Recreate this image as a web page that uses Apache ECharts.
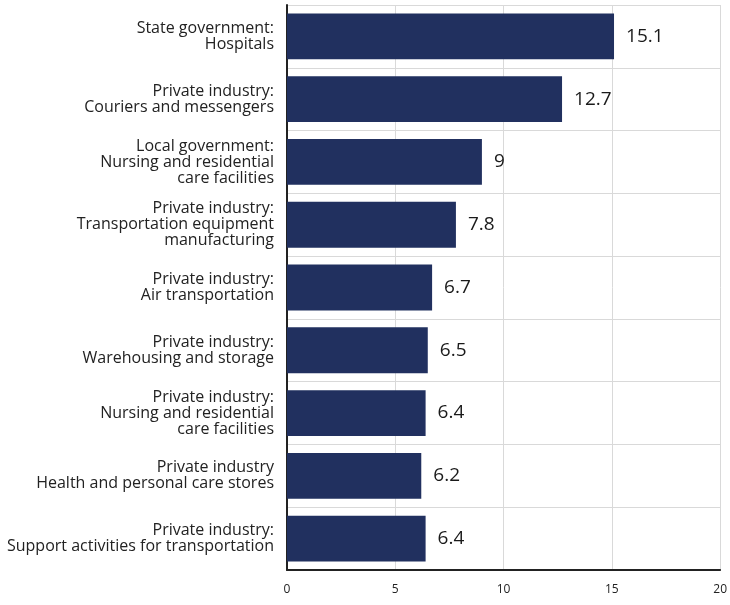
<!DOCTYPE html>
<html>
<head>
<meta charset="utf-8">
<script src="https://cdn.jsdelivr.net/npm/echarts@6/dist/echarts.min.js"></script>
<style>html,body{margin:0;padding:0;background:#fff;}#c{width:730px;height:605px;}</style>
</head>
<body>
<div id="c"></div>
<script>
var categories = [
  "State government:\nHospitals",
  "Private industry:\nCouriers and messengers",
  "Local government:\nNursing and residential\ncare facilities",
  "Private industry:\nTransportation equipment\nmanufacturing",
  "Private industry:\nAir transportation",
  "Private industry:\nWarehousing and storage",
  "Private industry:\nNursing and residential\ncare facilities",
  "Private industry\nHealth and personal care stores",
  "Private industry:\nSupport activities for transportation"
];
var values = [15.1, 12.7, 9, 7.8, 6.7, 6.5, 6.4, 6.2, 6.4];
var xTicks = [0, 5, 10, 15, 20];

var chart = echarts.init(document.getElementById('c'), null, {renderer: 'canvas'});
chart.setOption({
  animation: false,
  backgroundColor: '#fff',
  grid: {left: 287, right: 8, top: 5, bottom: 35, containLabel: false},
  xAxis: {
    type: 'value', min: xTicks[0], max: xTicks[xTicks.length - 1], interval: 5,
    axisLine: {show: true, lineStyle: {color: '#222', width: 2}},
    axisTick: {show: false},
    axisLabel: {color: '#222', fontSize: 12, fontFamily: 'Open Sans', margin: 14},
    splitLine: {show: true, lineStyle: {color: '#d9d9d9', width: 1}}
  },
  yAxis: {
    type: 'category', data: categories, inverse: true,
    axisLine: {show: true, lineStyle: {color: '#222', width: 2}},
    axisTick: {show: false},
    axisLabel: {color: '#222', fontSize: 16, fontFamily: 'Open Sans', lineHeight: 16, align: 'right', margin: 13},
    splitLine: {show: true, lineStyle: {color: '#d9d9d9', width: 1}}
  },
  series: [{
    type: 'bar', data: values, barCategoryGap: '27%',
    itemStyle: {color: '#21305f'},
    label: {show: true, position: 'right', distance: 12, color: '#1a1a1a', fontSize: 19, fontFamily: 'Open Sans'}
  }]
});
</script>
</body>
</html>
